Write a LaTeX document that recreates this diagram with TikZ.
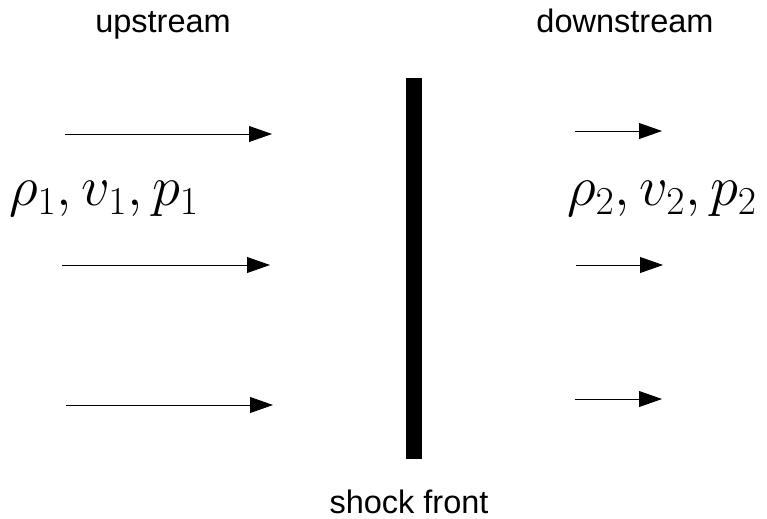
\documentclass[tikz,border=0pt]{standalone}
\usepackage{fix-cm}
\usepackage{amsmath}
\usepackage{fontspec}
\setmainfont{Liberation Sans}
\usetikzlibrary{arrows.meta,positioning}

\begin{document}
\begin{tikzpicture}[
    x=0.02cm, y=-0.02cm,
    label/.style={font=\fontsize{18.5}{22}\selectfont, inner sep=0pt, anchor=base},
    state/.style={font=\fontsize{32.2}{36}\selectfont, inner sep=0pt},
    flow/.style={-{Triangle[length=13pt,width=9pt]}, line width=0.5pt}
]
    \useasboundingbox (0,0) rectangle (767,518);

    \node[label] (up) at (163,32) {upstream};
    \node[label] (down) at (625,32) {downstream};
    \node[label] (front) at (409,513) {shock front};

    % shock
    \node[draw=none, fill=black, minimum width=16*0.02cm, minimum height=381*0.02cm, inner sep=0pt] (shock) at (414,268) {};

    \node[state] (left) at (104,199) {$\rho_1, v_1, p_1$};
    \node[state] (right) at (662,199) {$\rho_2, v_2, p_2$};

    % upstream flow
    \coordinate (a1) at (65,134);  \coordinate (b1) at (272,134);
    \coordinate (a2) at (62,265);  \coordinate (b2) at (270,265);
    \coordinate (a3) at (66,405);  \coordinate (b3) at (273,405);
    \draw[flow] (a1) -- (b1);
    \draw[flow] (a2) -- (b2);
    \draw[flow] (a3) -- (b3);

    % downstream flow
    \coordinate (c1) at (575,131); \coordinate (d1) at (662,131);
    \coordinate (c2) at (576,265); \coordinate (d2) at (663,265);
    \coordinate (c3) at (575,399); \coordinate (d3) at (662,399);
    \draw[flow] (c1) -- (d1);
    \draw[flow] (c2) -- (d2);
    \draw[flow] (c3) -- (d3);
\end{tikzpicture}
\end{document}
